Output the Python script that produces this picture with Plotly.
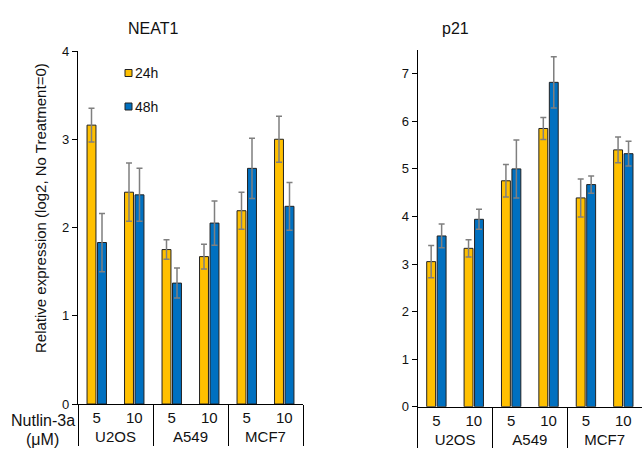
import plotly.graph_objects as go

# ---- data ----
cell_lines = ["U2OS", "U2OS", "A549", "A549", "MCF7", "MCF7"]
doses = ["5", "10", "5", "10", "5", "10"]
series_names = ["24h", "48h"]
series_colors = ["#FFC000", "#0070C0"]

neat1_24h = [3.16, 2.40, 1.75, 1.67, 2.19, 3.00]
neat1_24h_err = [0.19, 0.33, 0.11, 0.14, 0.21, 0.26]
neat1_48h = [1.83, 2.37, 1.37, 2.05, 2.67, 2.24]
neat1_48h_err = [0.33, 0.30, 0.17, 0.25, 0.34, 0.27]

p21_24h = [3.05, 3.33, 4.75, 5.85, 4.39, 5.40]
p21_24h_err = [0.34, 0.18, 0.34, 0.23, 0.40, 0.27]
p21_48h = [3.59, 3.94, 5.00, 6.82, 4.67, 5.32]
p21_48h_err = [0.25, 0.21, 0.61, 0.54, 0.18, 0.26]

neat1_ticks = [0, 1, 2, 3, 4]
p21_ticks = [0, 1, 2, 3, 4, 5, 6, 7]

FONT = "Arial, Liberation Sans, sans-serif"
W, H = 642, 449

x_multi = [cell_lines, doses]

fig = go.Figure()

panels = [
    ("x", "y", [neat1_24h, neat1_48h], [neat1_24h_err, neat1_48h_err]),
    ("x2", "y2", [p21_24h, p21_48h], [p21_24h_err, p21_48h_err]),
]
for xa, ya, vals, errs in panels:
    for name, color, v, e in zip(series_names, series_colors, vals, errs):
        fig.add_trace(go.Bar(
            x=x_multi, y=v, name=name, xaxis=xa, yaxis=ya,
            marker=dict(color=color, line=dict(color="#222222", width=1)),
            error_y=dict(type="data", array=e, visible=True,
                         color="#7f7f7f", thickness=1.5, width=3),
            showlegend=False,
        ))

xcommon = dict(
    type="multicategory", showline=True, linecolor="#000", linewidth=1.3,
    ticks="", showgrid=False, zeroline=False,
    showdividers=True, dividercolor="#000", dividerwidth=1,
    tickfont=dict(family=FONT, size=15, color="#111"),
    range=[-0.5, 5.5], automargin=False,
)
ycommon = dict(
    showline=True, linecolor="#000", linewidth=1.3, ticks="outside",
    ticklen=5, tickcolor="#000", tickwidth=1.3, showgrid=False, zeroline=False,
    tickfont=dict(family=FONT, size=13, color="#111"), automargin=False,
)

fig.update_layout(
    width=W, height=H,
    margin=dict(l=0, r=0, t=0, b=0),
    paper_bgcolor="white", plot_bgcolor="white",
    barmode="group", bargap=0.44, bargroupgap=0.15,
    xaxis=dict(xcommon, domain=[78 / W, 303 / W], anchor="y"),
    yaxis=dict(ycommon, domain=[1 - 404 / H, 1 - 51 / H], anchor="x",
               range=[0, 4], tickvals=neat1_ticks),
    xaxis2=dict(xcommon, domain=[417.7 / W, 1.0], anchor="y2"),
    yaxis2=dict(ycommon, domain=[1 - 406.7 / H, 1 - 50 / H], anchor="x2",
                range=[0, 7.5], tickvals=p21_ticks),
    showlegend=False,
)


def label(text, x, y, size, xanchor="center", angle=0):
    return dict(text=text, x=x / W, y=1 - y / H, xref="paper", yref="paper",
                xanchor=xanchor, yanchor="middle", textangle=angle,
                showarrow=False, font=dict(family=FONT, size=size, color="#111"))


ann = [
    label("NEAT1", 153, 28, 16),
    label("p21", 455, 28, 16),
    label("Relative expression (log2, No Treatment=0)", 40, 208, 15, angle=-90),
    label("Nutlin-3a", 77, 420, 16, xanchor="right"),
    label("(μM)", 43, 439, 16),
]

# manual legend (glyph + label)
shapes = []
for i, (name, color) in enumerate(zip(series_names, series_colors)):
    cy = 73 + i * 33.5
    shapes.append(dict(type="rect", xref="paper", yref="paper",
                       x0=125 / W, x1=132 / W, y0=1 - (cy + 3.5) / H, y1=1 - (cy - 3.5) / H,
                       fillcolor=color, line=dict(color="#222", width=1)))
    ann.append(label(name, 133, cy, 14, xanchor="left"))

fig.update_layout(annotations=ann, shapes=shapes)
fig.write_html("out.html", config={"displayModeBar": False},
               post_script="document.body.style.margin='0px';")
